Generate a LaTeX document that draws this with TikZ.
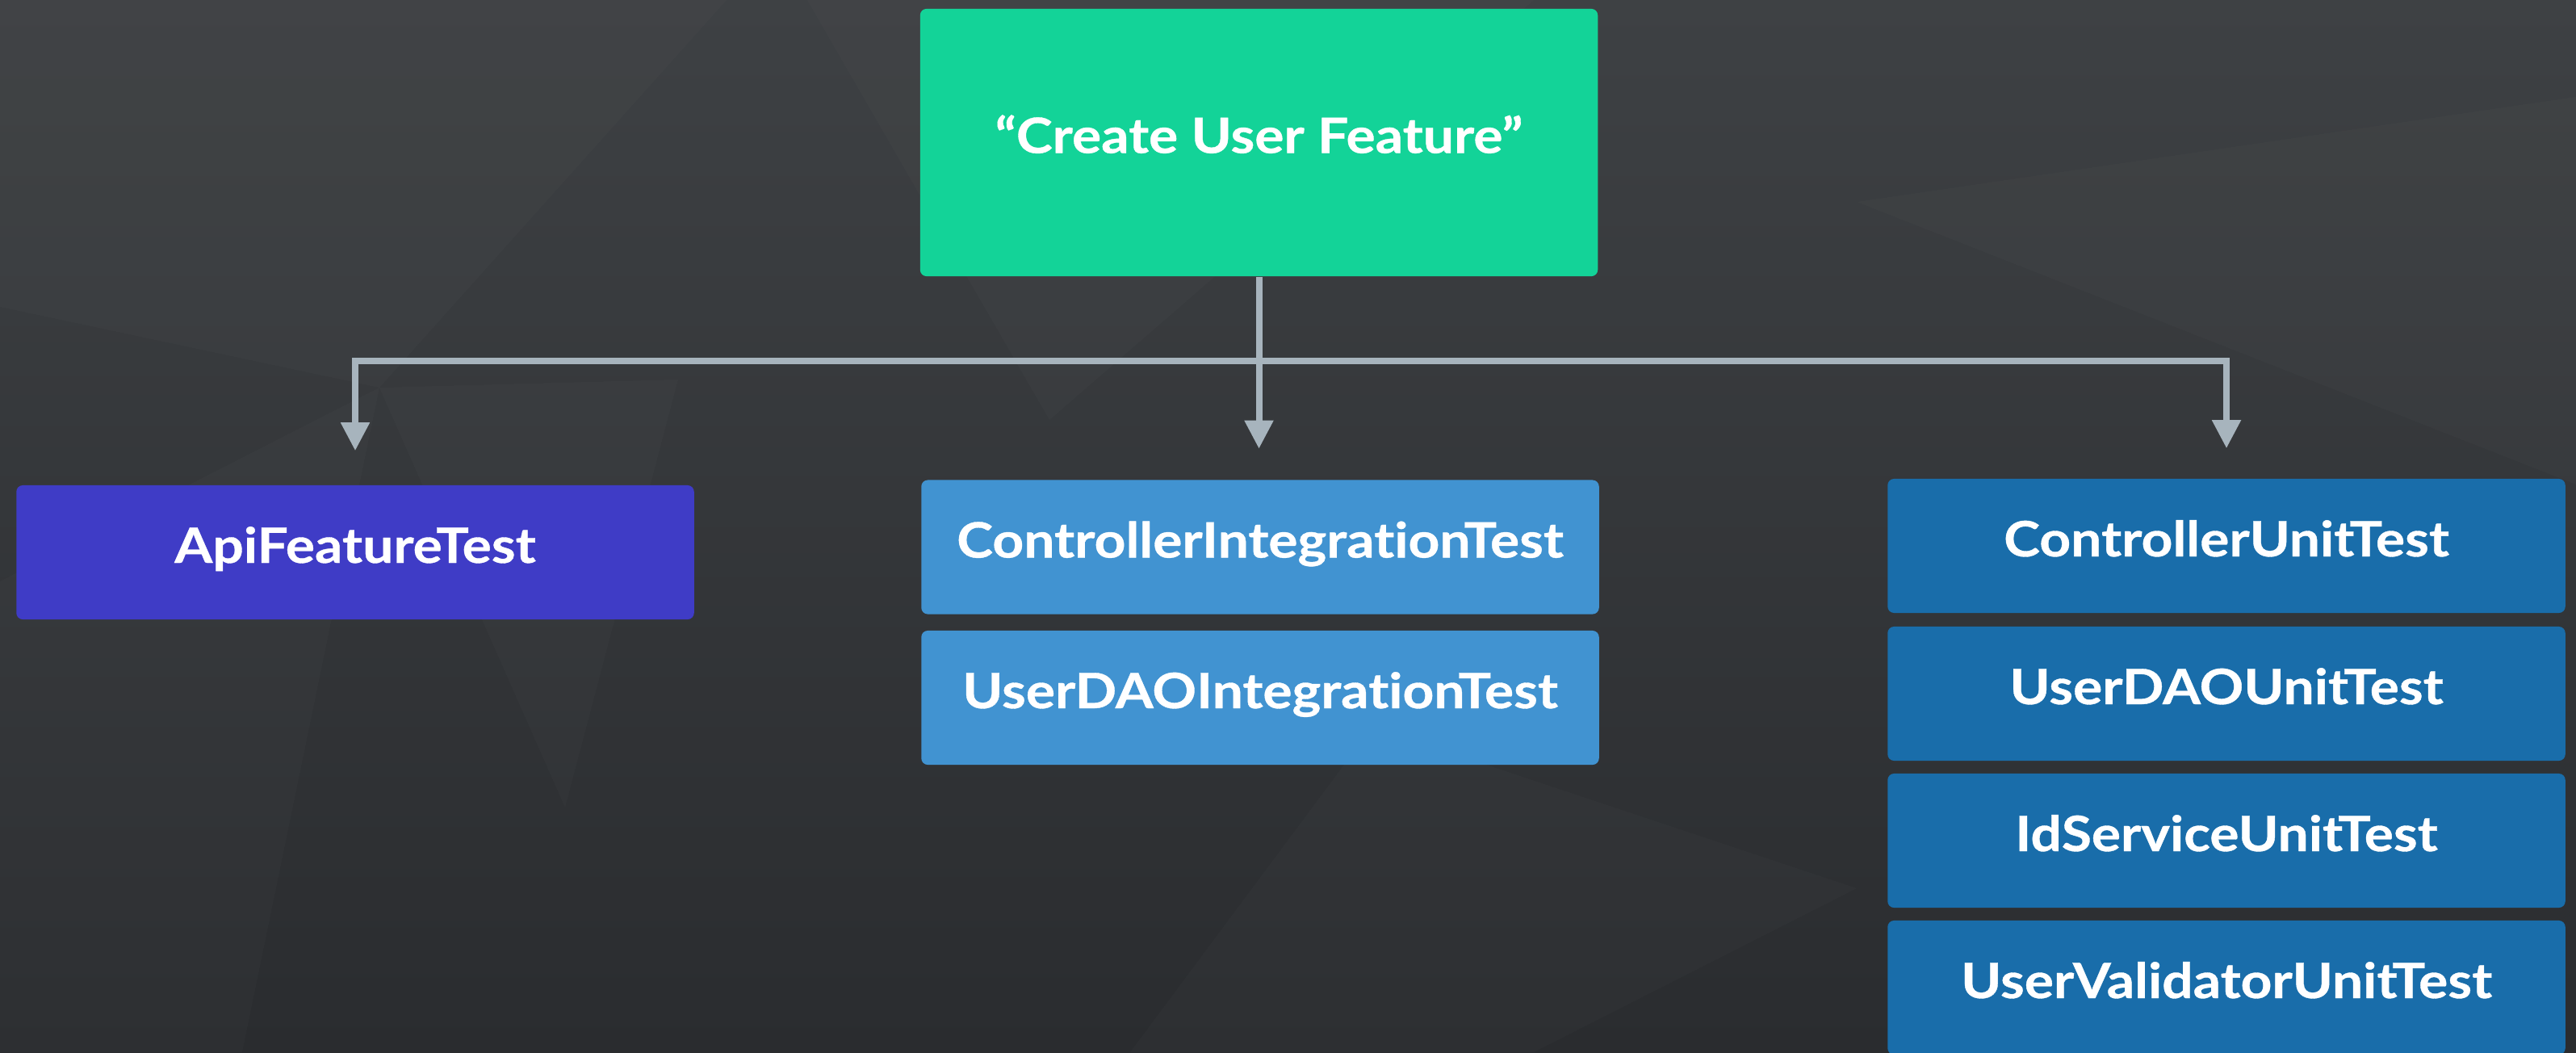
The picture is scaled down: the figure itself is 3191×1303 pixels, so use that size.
\documentclass[tikz,border=0pt]{standalone}
\usepackage{fontspec}
\setmainfont{Lato}[Ligatures=NoCommon, BoldFeatures={FakeStretch=1.12, FakeBold=0.6}]
\usetikzlibrary{arrows.meta,calc}

\definecolor{bgtop}{HTML}{3E4144}
\definecolor{bgbot}{HTML}{2A2C2F}
\definecolor{cgreen}{HTML}{13D398}
\definecolor{cpurple}{HTML}{3F3CC6}
\definecolor{cmid}{HTML}{4193D1}
\definecolor{cdark}{HTML}{196DAA}
\definecolor{cline}{HTML}{A7B4BD}

\tikzset{
  box/.style={rectangle, rounded corners=0.08cm, minimum width=8.39cm,
    minimum height=1.66cm, inner sep=0pt, text=white,
    font=\bfseries\fontsize{17.2}{20}\selectfont,
    text height=0.42cm, text depth=0.16cm},
  conn/.style={draw=cline, line width=0.08cm, line join=miter,
    -{Triangle[length=0.35cm,width=0.34cm]}},
  facet/.style={fill=white, fill opacity=0.015, draw=none}
}

\begin{document}
\begin{tikzpicture}[x=0.01cm, y=-0.01cm]
\useasboundingbox (0,0) rectangle (3191,1303);

% dark backdrop with faint low-poly facets
\shade[top color=bgtop, bottom color=bgbot] (0,0) rectangle (3191,1303);
\fill[facet] (0,0) -- (900,0) -- (470,480) -- (0,380) -- cycle;
\fill[facet] (470,480) -- (840,470) -- (700,1000) -- cycle;
\fill[facet] (1000,0) -- (1900,0) -- (1300,520) -- cycle;
\fill[facet] (2300,250) -- (3191,120) -- (3191,600) -- cycle;
\fill[facet] (0,720) -- (470,480) -- (300,1303) -- (0,1303) -- cycle;
\fill[facet] (1700,900) -- (2300,1100) -- (1900,1303) -- (1400,1303) -- cycle;

% feature and its tests
\node[box, fill=cgreen, minimum height=3.31cm] (feat) at (1559.5,176.5) {“Create User Feature”};
\node[box, fill=cpurple] (api) at (440,684) {ApiFeatureTest};
\node[box, fill=cmid] (cit) at (1561,677.5) {ControllerIntegrationTest};
\node[box, fill=cmid] (udit) at (1561,864) {UserDAOIntegrationTest};
\node[box, fill=cdark] (cut) at (2758,676) {ControllerUnitTest};
\node[box, fill=cdark] (udut) at (2758,859) {UserDAOUnitTest};
\node[box, fill=cdark] (isut) at (2758,1041) {IdServiceUnitTest};
\node[box, fill=cdark] (uvut) at (2758,1223) {UserValidatorUnitTest};

% branching connectors
\coordinate (bus) at (1559.5,447);
\draw[conn, shorten >=0.42cm] (feat.south) -- (feat.south |- bus) -| (api.north);
\draw[conn, shorten >=0.37cm] (feat.south |- bus) -| (cut.north);
\draw[conn, shorten >=0.38cm] (feat.south) -- (feat.south |- cit.north);
\end{tikzpicture}
\end{document}
